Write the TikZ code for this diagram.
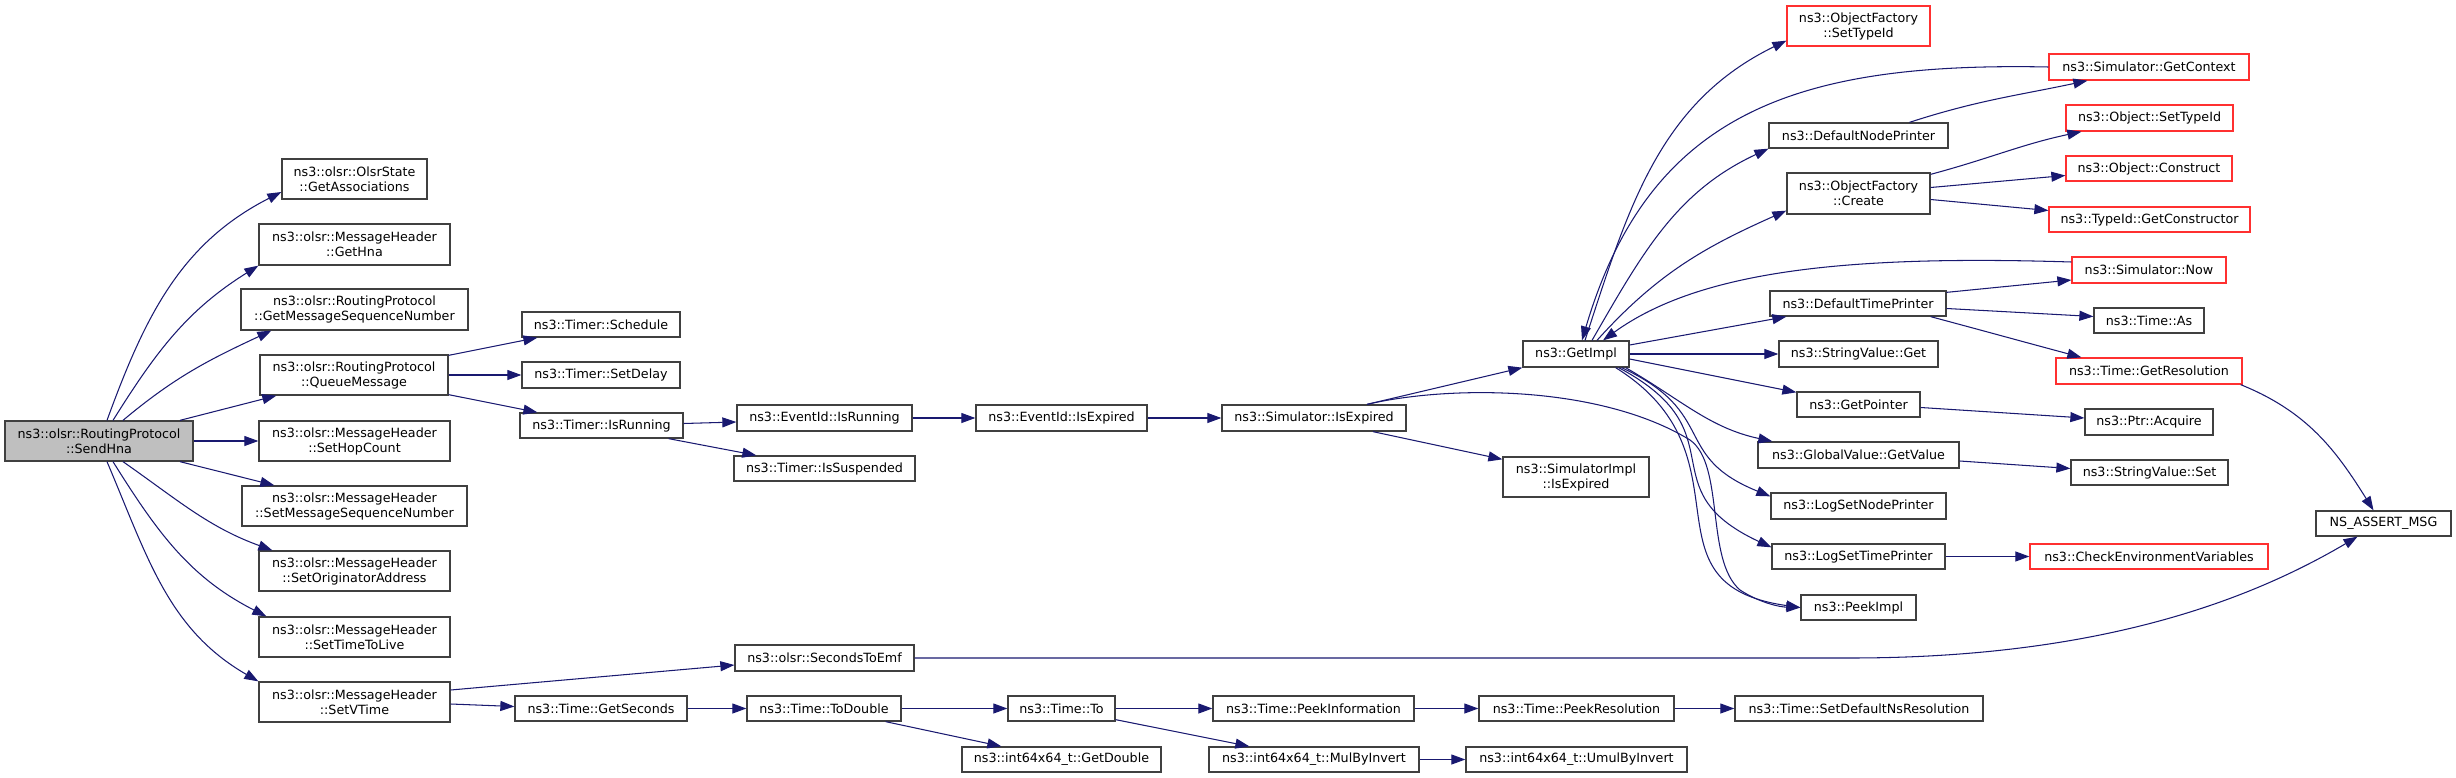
\documentclass[tikz,border=0pt]{standalone}
\usepackage{fontspec}
\setmainfont{DejaVu Sans}
\usetikzlibrary{arrows.meta}
\definecolor{edgec}{HTML}{191970}
\definecolor{boxc}{HTML}{404040}
\definecolor{redc}{HTML}{FF3030}
\definecolor{rootfill}{HTML}{BFBFBF}
\tikzset{
  box/.style={draw=boxc, line width=1.3pt, inner sep=0pt, align=center,
    font=\fontsize{12.7}{15}\selectfont, text=black},
  rbox/.style={box, draw=redc},
  rootbox/.style={box, fill=rootfill},
  e/.style={draw=edgec, line width=1.05pt, -{Triangle[length=14pt,width=10pt]}},
}
\newcommand\mkbox[7]{\node[#1, minimum width={#4-#3}, minimum height={#6-#5}] (#2) at ({(#3+#4)/2},{-(#5+#6)/2}) {#7};}
\begin{document}
\begin{tikzpicture}[x=1pt,y=1pt]
\useasboundingbox (0,0) rectangle (2456,-778);
% nodes
\mkbox{rootbox}{root}{5}{193}{421}{461}{ns3::olsr::RoutingProtocol\\::SendHna}
\mkbox{box}{ga}{282}{427}{159}{199}{ns3::olsr::OlsrState\\::GetAssociations}
\mkbox{box}{gh}{259}{450}{224}{265}{ns3::olsr::MessageHeader\\::GetHna}
\mkbox{box}{gmsn}{241}{468}{289}{330}{ns3::olsr::RoutingProtocol\\::GetMessageSequenceNumber}
\mkbox{box}{qm}{260}{448}{355}{395}{ns3::olsr::RoutingProtocol\\::QueueMessage}
\mkbox{box}{shc}{259}{450}{421}{461}{ns3::olsr::MessageHeader\\::SetHopCount}
\mkbox{box}{smsn}{242}{467}{486}{526}{ns3::olsr::MessageHeader\\::SetMessageSequenceNumber}
\mkbox{box}{soa}{259}{450}{551}{591}{ns3::olsr::MessageHeader\\::SetOriginatorAddress}
\mkbox{box}{sttl}{259}{450}{617}{657}{ns3::olsr::MessageHeader\\::SetTimeToLive}
\mkbox{box}{svt}{259}{450}{682}{722}{ns3::olsr::MessageHeader\\::SetVTime}
\mkbox{box}{tsch}{522}{680}{312}{337}{ns3::Timer::Schedule}
\mkbox{box}{tsd}{522}{680}{362}{388}{ns3::Timer::SetDelay}
\mkbox{box}{tir}{520}{683}{413}{438}{ns3::Timer::IsRunning}
\mkbox{box}{eir}{737}{912}{405}{431}{ns3::EventId::IsRunning}
\mkbox{box}{tis}{734}{915}{456}{481}{ns3::Timer::IsSuspended}
\mkbox{box}{ste}{735}{914}{645}{671}{ns3::olsr::SecondsToEmf}
\mkbox{box}{tgs}{515}{687}{696}{721}{ns3::Time::GetSeconds}
\mkbox{box}{ttd}{747}{901}{696}{721}{ns3::Time::ToDouble}
\mkbox{box}{eie}{976}{1147}{405}{431}{ns3::EventId::IsExpired}
\mkbox{box}{sie}{1222}{1406}{405}{431}{ns3::Simulator::IsExpired}
\mkbox{box}{tto}{1008}{1115}{696}{721}{ns3::Time::To}
\mkbox{box}{igd}{962}{1161}{747}{772}{ns3::int64x64\_t::GetDouble}
\mkbox{box}{tpi}{1213}{1414}{696}{721}{ns3::Time::PeekInformation}
\mkbox{box}{imi}{1209}{1419}{747}{772}{ns3::int64x64\_t::MulByInvert}
\mkbox{box}{sii}{1503}{1649}{457}{497}{ns3::SimulatorImpl\\::IsExpired}
\mkbox{box}{tpr}{1479}{1674}{696}{721}{ns3::Time::PeekResolution}
\mkbox{box}{iui}{1466}{1687}{747}{772}{ns3::int64x64\_t::UmulByInvert}
\mkbox{box}{gi}{1523}{1629}{341}{367}{ns3::GetImpl}
\mkbox{rbox}{ofst}{1787}{1930}{6}{46}{ns3::ObjectFactory\\::SetTypeId}
\mkbox{box}{dnp}{1769}{1948}{123}{148}{ns3::DefaultNodePrinter}
\mkbox{box}{ofc}{1787}{1930}{173}{214}{ns3::ObjectFactory\\::Create}
\mkbox{box}{dtp}{1770}{1946}{291}{316}{ns3::DefaultTimePrinter}
\mkbox{box}{svg}{1779}{1938}{341}{367}{ns3::StringValue::Get}
\mkbox{box}{gp}{1797}{1920}{392}{417}{ns3::GetPointer}
\mkbox{box}{gvg}{1758}{1959}{442}{468}{ns3::GlobalValue::GetValue}
\mkbox{box}{lsnp}{1771}{1946}{493}{519}{ns3::LogSetNodePrinter}
\mkbox{box}{lstp}{1772}{1945}{544}{569}{ns3::LogSetTimePrinter}
\mkbox{box}{pi}{1801}{1916}{595}{620}{ns3::PeekImpl}
\mkbox{box}{sdnr}{1735}{1983}{696}{721}{ns3::Time::SetDefaultNsResolution}
\mkbox{rbox}{sgc}{2049}{2249}{54}{80}{ns3::Simulator::GetContext}
\mkbox{rbox}{ost}{2066}{2233}{105}{131}{ns3::Object::SetTypeId}
\mkbox{rbox}{oc}{2066}{2232}{156}{181}{ns3::Object::Construct}
\mkbox{rbox}{tgc}{2049}{2250}{207}{232}{ns3::TypeId::GetConstructor}
\mkbox{rbox}{snow}{2072}{2226}{257}{283}{ns3::Simulator::Now}
\mkbox{box}{tas}{2094}{2204}{308}{333}{ns3::Time::As}
\mkbox{rbox}{tgr}{2056}{2242}{358}{384}{ns3::Time::GetResolution}
\mkbox{box}{pa}{2085}{2213}{409}{435}{ns3::Ptr::Acquire}
\mkbox{box}{svs}{2071}{2228}{460}{485}{ns3::StringValue::Set}
\mkbox{rbox}{cev}{2030}{2268}{544}{569}{ns3::CheckEnvironmentVariables}
\mkbox{box}{nam}{2316}{2451}{511}{536}{NS\_ASSERT\_MSG}
% edges from SendHna
\draw[e] ([xshift=8pt]root.north) to[out=70,in=207] ([yshift=-13pt]ga.west);
\draw[e] ([xshift=14pt]root.north) to[out=58,in=212] (gh.south west);
\draw[e] ([xshift=24pt]root.north) to[out=40,in=205] ([xshift=31pt]gmsn.south west);
\draw[e] ([xshift=81pt]root.north) -- ([xshift=17pt]qm.south west);
\draw[e] (root.east) -- (shc.west);
\draw[e] ([xshift=81pt]root.south) -- ([xshift=33pt]smsn.north west);
\draw[e] ([xshift=24pt]root.south) to[out=-35,in=160] ([xshift=14pt]soa.north west);
\draw[e] ([xshift=14pt]root.south) to[out=-58,in=153] ([xshift=8pt]sttl.north west);
\draw[e] ([xshift=8pt]root.south) to[out=-67,in=150] (svt.north west);
% QueueMessage
\draw[e] ([yshift=-1pt]qm.north east) -- ([xshift=16pt]tsch.south west);
\draw[e] (qm.east) -- (tsd.west);
\draw[e] ([yshift=1pt]qm.south east) -- ([xshift=18pt]tir.north west);
% Timer::IsRunning
\draw[e] ([yshift=2pt]tir.east) -- ([yshift=-4pt]eir.west);
\draw[e] ([xshift=-15pt]tir.south east) -- ([xshift=23pt]tis.north west);
\draw[e] (eir.east) -- (eie.west);
\draw[e] (eie.east) -- (sie.west);
% Simulator::IsExpired
\draw[e] ([xshift=53pt]sie.north) -- (gi.south west);
\draw[e] ([xshift=59pt]sie.south) -- ([yshift=-3pt]sii.north west);
\draw[e] ([xshift=53pt]sie.north) .. controls (1450,-385) and (1600,-385) .. (1690,-440)
  .. controls (1725,-465) and (1705,-560) .. (1740,-590)
  .. controls (1760,-603) and (1780,-607) .. (pi.west);
% GetImpl
\draw[e] ([xshift=9pt]gi.north) to[out=72,in=206] ([yshift=6pt]ofst.south west);
\draw[e] ([xshift=16pt]gi.north) to[out=60,in=205] (dnp.south west);
\draw[e] ([xshift=21pt]gi.north) to[out=48,in=204] ([yshift=4pt]ofc.south west);
\draw[e] (sgc.west) .. controls (1800,-62) and (1650,-110) .. ([xshift=6pt]gi.north);
\draw[e] ([yshift=8pt]snow.west) .. controls (1850,-255) and (1700,-270) .. ([xshift=27pt]gi.north);
\draw[e] ([yshift=9pt]gi.east) -- ([xshift=17pt]dtp.south west);
\draw[e] (gi.east) -- (svg.west);
\draw[e] ([yshift=-5pt]gi.east) -- ([yshift=-1pt]gp.north west);
\draw[e] ([xshift=-4pt]gi.south east) to[out=-30,in=168] ([xshift=15pt]gvg.north west);
\draw[e] ([xshift=-8pt]gi.south east) to[out=-25,in=158,looseness=1.4] ([yshift=-4pt]lsnp.north west);
\draw[e] ([xshift=-11pt]gi.south east) to[out=-28,in=155,looseness=1.5] ([yshift=-4pt]lstp.north west);
\draw[e] ([xshift=-14pt]gi.south east) to[out=-32,in=172,looseness=1.4] (pi.west);
% right part
\draw[e] ([xshift=51pt]dnp.north) to[out=18,in=192] ([xshift=39pt]sgc.south west);
\draw[e] ([yshift=-2pt]ofc.north east) to[out=15,in=192] ([xshift=16pt]ost.south west);
\draw[e] ([yshift=6pt]ofc.east) -- ([yshift=-7pt]oc.west);
\draw[e] ([yshift=-6pt]ofc.east) -- ([yshift=9pt]tgc.west);
\draw[e] ([yshift=-2pt]dtp.north east) -- ([yshift=-10pt]snow.west);
\draw[e] ([yshift=-5pt]dtp.east) -- ([yshift=4pt]tas.west);
\draw[e] ([xshift=-16pt]dtp.south east) to[out=-15,in=165] ([xshift=26pt]tgr.north west);
\draw[e] ([xshift=-2pt]tgr.south east) to[out=-22,in=122] ([xshift=-10pt]nam.north);
\draw[e] ([yshift=-3pt]gp.east) -- ([yshift=4pt]pa.west);
\draw[e] ([yshift=-6pt]gvg.east) -- ([yshift=4pt]svs.west);
\draw[e] (lstp.east) -- (cev.west);
% SetVTime chain
\draw[e] ([yshift=12pt]svt.east) -- ([yshift=-7pt]ste.west);
\draw[e] ([yshift=-2pt]svt.east) -- ([yshift=2pt]tgs.west);
\draw[e] (ste.east) -- (1850,-658) .. controls (2100,-658) and (2250,-600) .. ([xshift=-26pt]nam.south);
\draw[e] (tgs.east) -- (ttd.west);
\draw[e] (ttd.east) -- (tto.west);
\draw[e] ([xshift=-16pt]ttd.south east) -- ([xshift=40pt]igd.north west);
\draw[e] (tto.east) -- (tpi.west);
\draw[e] ([yshift=2pt]tto.south east) -- ([xshift=41pt]imi.north west);
\draw[e] (tpi.east) -- (tpr.west);
\draw[e] (tpr.east) -- (sdnr.west);
\draw[e] (imi.east) -- (iui.west);
\end{tikzpicture}
\end{document}
